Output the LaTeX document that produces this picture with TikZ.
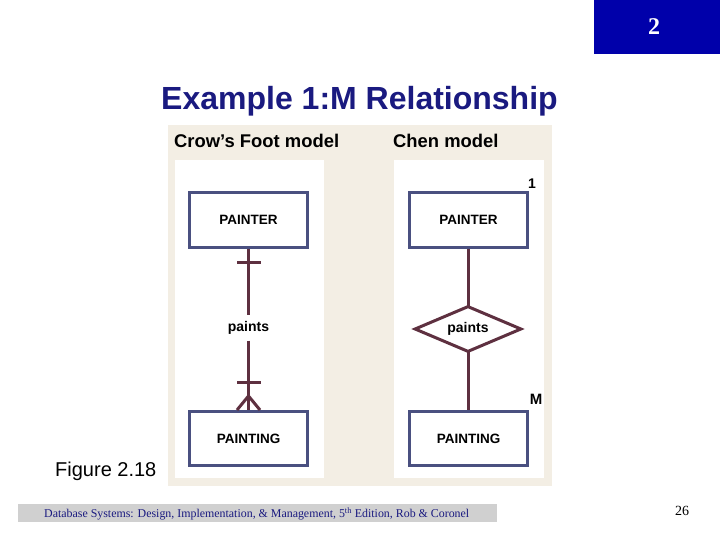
\documentclass[tikz,border=0pt]{standalone}
\usepackage{fontspec}
\setmainfont{Liberation Serif}
\setsansfont{Liberation Sans}
\usetikzlibrary{shapes.geometric}
\definecolor{navy}{RGB}{26,26,128}
\definecolor{tabblue}{RGB}{0,0,170}
\definecolor{beige}{RGB}{243,238,228}
\definecolor{boxblue}{RGB}{74,80,128}
\definecolor{linkred}{RGB}{94,48,64}
\definecolor{footgray}{RGB}{208,208,208}
\tikzset{
  entity/.style={draw=boxblue,line width=3pt,fill=white,minimum width=118pt,minimum height=54pt,inner sep=0pt,font=\sffamily\bfseries\fontsize{13.5}{15}\selectfont},
  rel/.style={draw=linkred,line width=3pt,fill=white,diamond,aspect=2.3,minimum width=107pt,minimum height=46pt,inner sep=0pt,font=\sffamily\bfseries\fontsize{14}{16}\selectfont},
  link/.style={draw=linkred,line width=3pt},
  hdr/.style={font=\sffamily\bfseries\fontsize{18.4}{20}\selectfont,anchor=west,inner sep=0pt},
  plain/.style={inner sep=0pt}
}
\begin{document}
\begin{tikzpicture}[x=1pt,y=-1pt]
\useasboundingbox (0,0) rectangle (720,540);
\fill[white] (0,0) rectangle (720,540);
% tab
\fill[tabblue] (594,0) rectangle (720,54);
\node[plain,text=white,font=\bfseries\fontsize{24}{26}\selectfont] (tab) at (654,27) {2};
% title
\node[plain,text=navy,font=\sffamily\bfseries\fontsize{32}{35}\selectfont] (title) at (359.5,101) {Example 1:M Relationship};
% figure panel
\fill[beige] (168,125) rectangle (552,486);
\fill[white] (175,160) rectangle (324,478);
\fill[white] (394,160) rectangle (544,478);
\node[hdr] (hcf) at (174,141) {Crow’s Foot model};
\node[hdr] (hch) at (393,141) {Chen model};
% crow's foot
\node[entity] (p1) at (248.5,220) {PAINTER};
\node[entity] (g1) at (248.5,438.5) {PAINTING};
\node[plain,fill=white,inner ysep=6pt,font=\sffamily\bfseries\fontsize{14}{16}\selectfont] (r1) at (248.5,328) {paints};
\draw[link] (p1.south) -- (r1.north);
\draw[link] (r1.south) -- (g1.north);
\coordinate (t1l) at (237,262); \coordinate (t1r) at (261,262);
\draw[link] (t1l) -- (t1r);
\coordinate (t2l) at (237,382); \coordinate (t2r) at (261,382);
\draw[link] (t2l) -- (t2r);
\coordinate (cfo) at (248.5,396);
\coordinate (cfl) at (237,410); \coordinate (cfr) at (260,410);
\draw[link] (cfl) -- (cfo) -- (cfr);
% chen
\node[entity] (p2) at (468.5,220) {PAINTER};
\node[entity] (g2) at (468.5,438.5) {PAINTING};
\draw[link] (p2.south) -- (g2.north);
\node[rel] (r2) at (468,329) {paints};
\node[plain,font=\sffamily\bfseries\fontsize{14}{16}\selectfont] (one) at (532,184) {1};
\node[plain,font=\sffamily\bfseries\fontsize{15}{17}\selectfont] (many) at (536,399) {M};
% figure caption
\node[plain,anchor=west,font=\sffamily\fontsize{20}{22}\selectfont] (fig) at (55,471) {Figure 2.18};
% footer
\fill[footgray] (18,504) rectangle (497,522);
\node[plain,anchor=west,text=navy,font=\fontsize{11.9}{13}\selectfont] (foot) at (44,514) {Database Systems: Design, Implementation, \& Management, 5\textsuperscript{th} Edition, Rob \& Coronel};
\node[plain,font=\fontsize{14}{16}\selectfont] (page) at (682,511) {26};
\end{tikzpicture}
\end{document}
